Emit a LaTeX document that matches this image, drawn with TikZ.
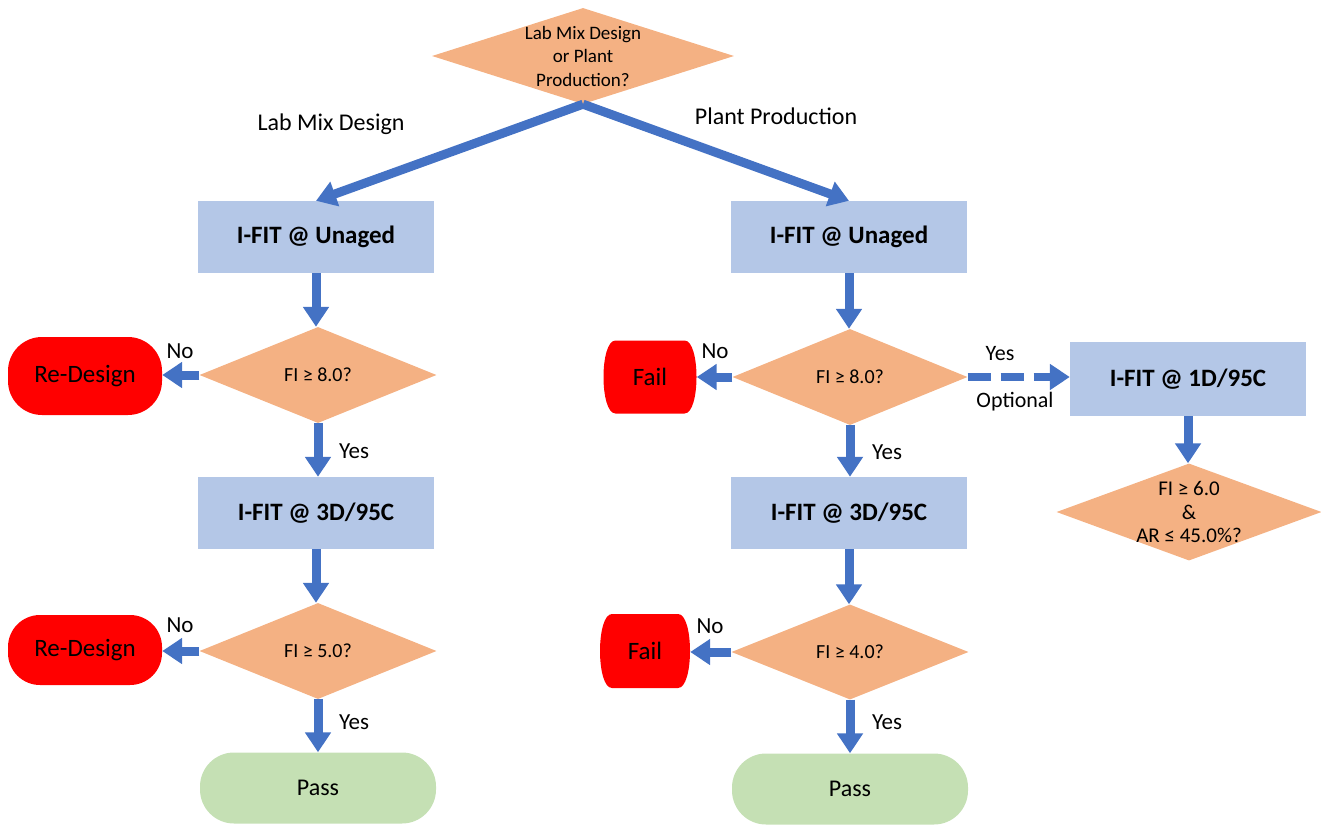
\documentclass[tikz,border=0pt]{standalone}
\usepackage{fontspec}
\setmainfont{Carlito}
\usetikzlibrary{shapes.geometric,arrows.meta}
\definecolor{diac}{HTML}{F4B183}
\definecolor{boxc}{HTML}{B4C7E7}
\definecolor{arrc}{HTML}{4472C4}
\definecolor{passc}{HTML}{C5E0B4}
\begin{document}
\begin{tikzpicture}[x=1pt,y=-1pt,
  decision/.style={diamond, fill=diac, inner sep=0pt},
  dtext/.style={align=center, inner sep=0pt, font=\fontsize{20}{23.5}\selectfont},
  proc/.style={rectangle, fill=boxc, minimum width=236pt, minimum height=72pt, inner sep=0pt, font=\fontsize{25}{30}\selectfont\bfseries},
  redterm/.style={rectangle, fill=red, inner sep=0pt, font=\fontsize{25}{30}\selectfont},
  failterm/.style={rectangle, inner sep=0pt, font=\fontsize{25}{30}\selectfont,
    path picture={\fill[red] ([xshift=12pt]path picture bounding box.north west)
      -- ([xshift=-12pt]path picture bounding box.north east)
      .. controls ([xshift=4pt]path picture bounding box.north east) and ([xshift=4pt]path picture bounding box.south east)
      .. ([xshift=-12pt]path picture bounding box.south east)
      -- ([xshift=12pt]path picture bounding box.south west)
      .. controls ([xshift=-4pt]path picture bounding box.south west) and ([xshift=-4pt]path picture bounding box.north west)
      .. cycle;}},
  passterm/.style={rectangle, fill=passc, rounded corners=34pt, minimum width=236pt, minimum height=71pt, inner sep=0pt, font=\fontsize{24}{29}\selectfont},
  lbl/.style={inner sep=0pt, font=\fontsize{23}{27}\selectfont},
  slbl/.style={inner sep=0pt, font=\fontsize{22}{26}\selectfont},
  flow/.style={draw=arrc, line width=9pt, -{Triangle[width=25pt,length=20pt]}},
  dflow/.style={draw=arrc, line width=8pt, dash pattern=on 23pt off 10pt, -{Triangle[width=25pt,length=20pt]}}
]
\useasboundingbox (0,0) rectangle (1321,824);

% top decision
\node[decision, minimum width=302pt, minimum height=96pt] (q0) at (583,56) {};
\node[dtext, font=\fontsize{19}{23.5}\selectfont] (q0t) at (q0) {Lab Mix Design\\or Plant\\Production?};
\node[lbl, font=\fontsize{24}{28}\selectfont] (lLab) at (331,124) {Lab Mix Design};
\node[lbl, font=\fontsize{24}{28}\selectfont] (lPlant) at (776,116) {Plant Production};

% left column
\node[proc] (b1) at (316,237) {I-FIT @ Unaged};
\node[decision, minimum width=237pt, minimum height=96pt] (d1) at (318,375) {};
\node[dtext] (d1t) at (d1) {FI ≥ 8.0?};
\node[redterm, rounded corners=34pt, minimum width=154pt, minimum height=78pt] (rd1) at (85,376) {Re-Design};
\node[proc] (b2) at (316,513) {I-FIT @ 3D/95C};
\node[decision, minimum width=237pt, minimum height=96pt] (d2) at (318,651) {};
\node[dtext] (d2t) at (d2) {FI ≥ 5.0?};
\node[redterm, rounded corners=32pt, minimum width=154pt, minimum height=70pt] (rd2) at (85,650) {Re-Design};
\node[passterm] (p1) at (318,788) {Pass};

% right column
\node[proc] (c1) at (849,237) {I-FIT @ Unaged};
\node[decision, minimum width=235pt, minimum height=96pt] (e1) at (850,377) {};
\node[dtext] (e1t) at (e1) {FI ≥ 8.0?};
\node[failterm, minimum width=93pt, minimum height=73pt] (f1) at (650,377) {Fail};
\node[proc] (c2) at (849,513) {I-FIT @ 3D/95C};
\node[decision, minimum width=237pt, minimum height=95pt] (e2) at (850,652) {};
\node[dtext] (e2t) at (e2) {FI ≥ 4.0?};
\node[failterm, minimum width=90pt, minimum height=74pt] (f2) at (645,651) {Fail};
\node[passterm] (p2) at (850,789) {Pass};

% optional branch
\node[proc, minimum height=74pt] (c3) at (1188,379) {I-FIT @ 1D/95C};
\node[decision, minimum width=265pt, minimum height=97pt] (e3) at (1189,512) {};
\node[dtext, font=\fontsize{21}{23.5}\selectfont] (e3t) at (e3) {FI ≥ 6.0\\\&\\AR ≤ 45.0\%?};

% connectors
\draw[flow] (q0.south) -- (b1.north);
\draw[flow] (q0.south) -- (c1.north);

\draw[flow] (b1.south) -- (b1.south |- d1.north);
\draw[flow] (d1.west) -- (d1.west -| rd1.east);
\draw[flow] (d1.south) -- (d1.south |- b2.north);
\draw[flow] (b2.south) -- (b2.south |- d2.north);
\draw[flow] (d2.west) -- (d2.west -| rd2.east);
\draw[flow] (d2.south) -- (d2.south |- p1.north);

\draw[flow] (c1.south) -- (c1.south |- e1.north);
\draw[flow] (e1.west) -- (e1.west -| f1.east);
\draw[flow] (e1.south) -- (e1.south |- c2.north);
\draw[flow] (c2.south) -- (c2.south |- e2.north);
\draw[flow] (e2.west) -- (e2.west -| f2.east);
\draw[flow] (e2.south) -- (e2.south |- p2.north);

\draw[dflow] (e1.east) -- (e1.east -| c3.west);
\draw[flow] (c3.south) -- (c3.south |- e3.north);

% labels
\node[lbl] (n1) at (180,351) {No};
\node[lbl] (y1) at (354,451) {Yes};
\node[lbl] (n2) at (180,625) {No};
\node[lbl] (y2) at (354,722) {Yes};
\node[lbl] (n3) at (715,351) {No};
\node[lbl] (y3) at (887,452) {Yes};
\node[lbl] (n4) at (710,626) {No};
\node[lbl] (y4) at (887,722) {Yes};
\node[slbl] (y5) at (1000,354) {Yes};
\node[slbl] (opt) at (1015,402) {Optional};
\end{tikzpicture}
\end{document}
